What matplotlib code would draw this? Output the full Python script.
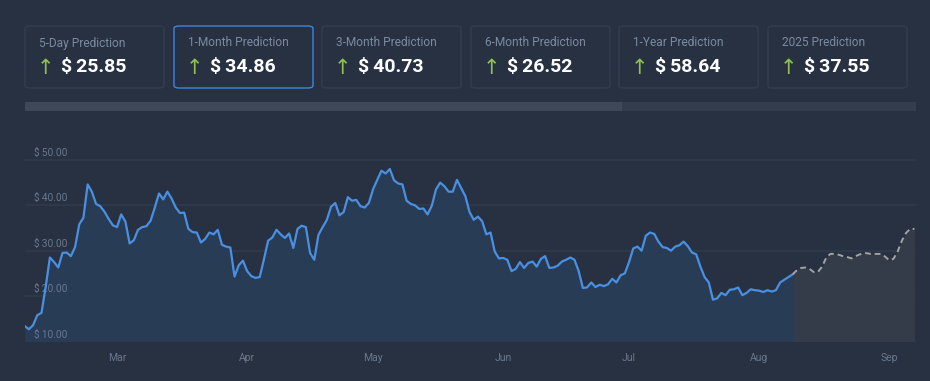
import numpy as np
import pandas as pd
import matplotlib
matplotlib.use("Agg")
import matplotlib.pyplot as plt
import matplotlib.dates as mdates
from matplotlib.patches import FancyBboxPatch, Rectangle

# prediction cards
card_titles = ["5-Day Prediction", "1-Month Prediction", "3-Month Prediction",
               "6-Month Prediction", "1-Year Prediction", "2025 Prediction"]
card_values = [25.85, 34.86, 40.73, 26.52, 58.64, 37.55]
selected_card = 1

# daily prices from 2024-02-08 (history) and forecast continuing from last close
start_date = "2024-02-08"
history = [
    13.4, 12.7, 13.6, 15.8, 16.3, 22.0, 28.5, 27.5, 26.3, 29.5,
    29.6, 28.8, 30.8, 35.8, 37.3, 44.6, 43.0, 40.3, 39.8, 38.6,
    37.0, 35.6, 35.2, 38.0, 36.4, 31.6, 32.3, 34.6, 35.2, 35.4,
    36.6, 39.5, 42.6, 41.3, 43.0, 41.5, 39.5, 38.3, 38.4, 34.8,
    34.1, 34.0, 31.8, 32.6, 34.0, 33.6, 34.6, 31.3, 30.9, 30.7,
    24.3, 26.8, 27.8, 25.5, 24.4, 24.0, 24.2, 28.1, 32.2, 32.9,
    34.6, 33.6, 32.8, 33.8, 30.6, 34.8, 35.5, 35.2, 29.5, 28.0,
    33.5, 35.2, 36.8, 39.7, 40.5, 37.8, 38.5, 41.8, 41.0, 41.2,
    39.8, 39.5, 40.5, 43.5, 45.6, 47.6, 47.0, 48.0, 45.5, 44.8,
    44.6, 41.0, 40.3, 40.0, 39.2, 39.3, 38.0, 39.9, 43.5, 45.0,
    44.2, 43.0, 43.0, 45.6, 43.8, 42.0, 38.5, 36.8, 37.5, 36.5,
    33.6, 34.0, 29.8, 28.3, 28.4, 28.0, 25.5, 26.0, 27.5, 26.2,
    27.3, 27.6, 26.5, 28.2, 28.8, 26.2, 26.3, 26.7, 27.6, 28.0,
    28.5, 28.0, 25.5, 21.8, 21.9, 23.0, 22.0, 22.5, 22.2, 22.6,
    23.8, 23.0, 24.6, 25.0, 27.5, 30.5, 30.9, 30.0, 33.3, 34.0,
    33.7, 32.0, 30.8, 30.6, 30.0, 30.9, 31.2, 32.0, 31.0, 29.6,
    29.2, 26.5, 24.2, 23.0, 19.2, 19.5, 20.7, 20.2, 21.4, 21.5,
    21.9, 20.2, 20.7, 21.5, 21.3, 21.2, 20.9, 21.3, 21.0, 21.3,
    23.0, 23.6, 24.2, 24.8,
]
forecast = [
    24.8, 25.7, 26.2, 26.3, 26.0, 25.3, 25.3, 26.5, 28.5, 29.3,
    29.3, 29.1, 28.8, 28.6, 28.3, 28.8, 29.2, 29.5, 29.4, 29.2,
    29.3, 29.3, 28.7, 27.9, 28.2, 29.8, 32.2, 33.9, 34.8, 34.8,
]
y_ticks = [10, 20, 30, 40, 50]

bg = "#273142"
grid_col = "#2f3a4b"
label_col = "#69788e"
line_col = "#4a90e2"

hist_dates = pd.date_range(start_date, periods=len(history), freq="D")
fc_dates = pd.date_range(hist_dates[-1], periods=len(forecast), freq="D")

fig = plt.figure(figsize=(9.3, 3.81), dpi=100, facecolor=bg)
W, H = 930, 381

# cards
card_x = [25, 174, 322, 471, 619, 768]
for i, (title, val) in enumerate(zip(card_titles, card_values)):
    x0 = card_x[i]
    edge = "#3d87dc" if i == selected_card else "#323d4f"
    box = FancyBboxPatch((x0 / W, 1 - 88 / H), 139 / W, 62 / H,
                         boxstyle="round,pad=0,rounding_size=0.006",
                         transform=fig.transFigure, facecolor=bg,
                         edgecolor=edge, linewidth=1.0)
    fig.patches.append(box)
    fig.text((x0 + 14) / W, 1 - 43 / H, title, fontsize=8.6, color="#7c8ba1",
             family="Roboto", va="center", ha="left")
    fig.text((x0 + 20) / W, 1 - 67.5 / H, "\u2191", fontsize=15, color="#8fc050",
             family="DejaVu Sans", va="center", ha="center")
    fig.text((x0 + 36) / W, 1 - 67 / H, f"$\u2009{val:.2f}", fontsize=14,
             color="white", family=["Roboto", "DejaVu Sans"], fontweight="bold",
             va="center", ha="left")

# scroll bar
fig.patches.append(Rectangle((25 / W, 1 - 110.5 / H), 891 / W, 8.5 / H,
                             transform=fig.transFigure, facecolor="#333d4d",
                             edgecolor="none"))
fig.patches.append(Rectangle((25 / W, 1 - 110.5 / H), 597 / W, 8.5 / H,
                             transform=fig.transFigure, facecolor="#3e4858",
                             edgecolor="none"))

# chart
ax = fig.add_axes([24.7 / W, (H - 341.5) / H, (916 - 24.7) / W, (341.5 - 140) / H])
ax.set_facecolor(bg)
for s in ax.spines.values():
    s.set_visible(False)

for v in y_ticks:
    ax.axhline(v, color=grid_col if v > 10 else "#343e50", lw=1.2, zorder=1)
    ax.annotate(f"$\u2009{v:.2f}", xy=(0, v), xycoords=("axes fraction", "data"),
                xytext=(9, 2), textcoords="offset pixels", va="bottom", ha="left",
                fontsize=7.3, color=label_col, family=["Roboto", "DejaVu Sans"])

ax.fill_between(hist_dates, history, 10, color="#293c56", lw=0, zorder=2)
ax.fill_between(fc_dates, forecast, 10, color="#343c4a", lw=0, zorder=2)
ax.plot(hist_dates, history, color=line_col, lw=1.6, zorder=4)
ax.plot(fc_dates, forecast, color="#a3a3a3", lw=1.4, ls=(0, (3, 2)), zorder=4)

ax.set_ylim(10, 54.38)
ax.set_xlim(hist_dates[0], fc_dates[-1] + pd.Timedelta(hours=9))
ax.set_yticks([])
ax.xaxis.set_major_locator(mdates.MonthLocator())
ax.xaxis.set_major_formatter(mdates.DateFormatter("%b"))
ax.tick_params(axis="x", length=0, pad=8, labelsize=7.5, labelcolor=label_col)
for t in ax.get_xticklabels():
    t.set_family("Roboto")

fig.savefig("out.png", dpi=100, facecolor=bg)
